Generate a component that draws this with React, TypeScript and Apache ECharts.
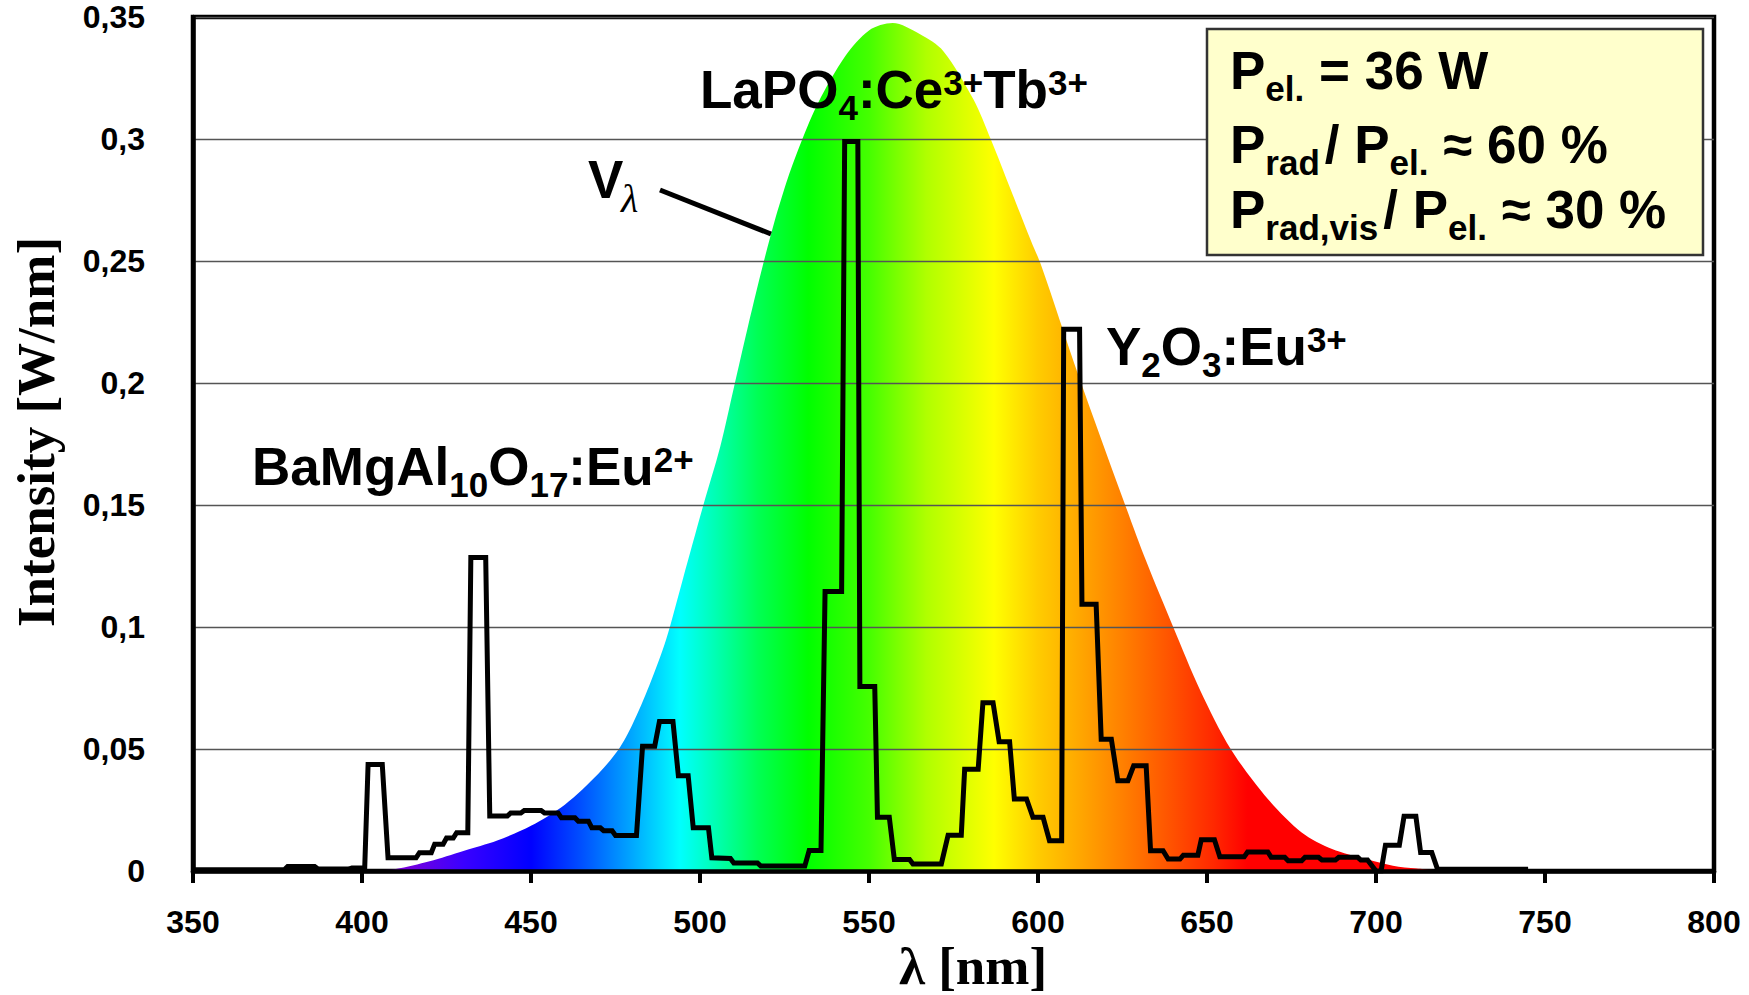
import React, { useEffect, useRef } from 'react';
import * as echarts from 'echarts';

const SANS = '"Liberation Sans", Arial, Helvetica, sans-serif';
const SERIF = '"Liberation Serif", "Times New Roman", Times, serif';

// Eye sensitivity curve V(lambda) as drawn (scaled to W/nm axis)
const vLambda = [400, 405, 410, 420, 430, 440, 450, 460, 470, 476, 480, 485, 490, 495, 501, 506, 510, 514, 518, 522, 526, 530, 535, 543, 550, 557, 565, 572, 581, 586, 592, 598, 601, 612, 625, 632, 640, 648, 657, 668, 678, 687, 697, 705, 712, 720];
const vValue = [0, 0.0003, 0.0008, 0.004, 0.0082, 0.0125, 0.0185, 0.0272, 0.04, 0.05, 0.06, 0.076, 0.095, 0.12, 0.15, 0.174, 0.198, 0.222, 0.245, 0.266, 0.284, 0.299, 0.315, 0.334, 0.3445, 0.3475, 0.343, 0.336, 0.316, 0.3, 0.279, 0.258, 0.248, 0.203, 0.153, 0.127, 0.1, 0.074, 0.05, 0.0295, 0.0158, 0.009, 0.0049, 0.0022, 0.001, 0];

// Spectral colour stops of the filled curve
const colorLambda = [400, 415, 430, 450, 465, 480, 494, 505, 517, 532, 550, 560, 567, 587, 600, 612, 625, 640, 652, 662, 720];
const colorValue = ['#9400d3', '#7000e0', '#3a00ff', '#0000ff', '#0050ff', '#00a8ff', '#00ffff', '#00ffb0', '#00ff55', '#00ff00', '#45ff00', '#85ff00', '#b0ff00', '#ffff00', '#ffcc00', '#ffa800', '#ff8000', '#ff5000', '#ff2800', '#ff0000', '#ff0000'];

// Lamp emission spectrum (step outline)
const specLambda = [350, 377, 378, 386, 387, 396, 397, 400.8, 401.8, 406, 407.7, 416, 417, 420.5, 421.5, 424, 425, 427, 428, 431.3, 432.2, 436.6, 437.8, 443, 444, 447, 448, 453, 454, 458, 459, 463, 464, 467, 468, 470.5, 471.5, 474, 475, 481.2, 483, 486.6, 488, 492, 493.6, 496.5, 498, 502.5, 503.5, 509, 510, 517, 518, 531, 532.3, 535.8, 537, 541.9, 542.8, 546.7, 547.3, 551.7, 552.5, 556, 557.5, 562, 563, 571.4, 573.4, 577.3, 578.3, 582.3, 583.7, 586.7, 588.5, 591.6, 593, 596.6, 598.5, 601.5, 603.4, 607, 607.6, 612.3, 613, 617.2, 618.7, 621.7, 623.6, 626.6, 628.3, 632, 633.3, 637, 638.5, 642, 643, 647.3, 648.3, 652.2, 653.8, 661, 662, 668, 669, 673, 674, 678, 679, 683, 684, 688, 689, 694.6, 695.5, 697.5, 700, 701.5, 702.8, 706.9, 708.3, 711.8, 713.2, 716.5, 718.2, 745];
const specValue = [0.0005, 0.0005, 0.0018, 0.0018, 0.0008, 0.0008, 0.0012, 0.0012, 0.0436, 0.0436, 0.0054, 0.0054, 0.0075, 0.0075, 0.011, 0.011, 0.0135, 0.0135, 0.0157, 0.0157, 0.1285, 0.1285, 0.0225, 0.0225, 0.0238, 0.0238, 0.0248, 0.0248, 0.0238, 0.0238, 0.0218, 0.0218, 0.0204, 0.0204, 0.0177, 0.0177, 0.0165, 0.0165, 0.0146, 0.0146, 0.0511, 0.0511, 0.0613, 0.0613, 0.039, 0.039, 0.0177, 0.0177, 0.0054, 0.0051, 0.0033, 0.0033, 0.002, 0.002, 0.0084, 0.0084, 0.1145, 0.1145, 0.299, 0.299, 0.0756, 0.0756, 0.022, 0.022, 0.0047, 0.0047, 0.0029, 0.0029, 0.0147, 0.0147, 0.0417, 0.0417, 0.069, 0.069, 0.053, 0.053, 0.0295, 0.0295, 0.022, 0.022, 0.0124, 0.0124, 0.222, 0.222, 0.1093, 0.1093, 0.054, 0.054, 0.037, 0.037, 0.0431, 0.0431, 0.0083, 0.0083, 0.0049, 0.0049, 0.0065, 0.0065, 0.0128, 0.0128, 0.0058, 0.0058, 0.0078, 0.0078, 0.0056, 0.0056, 0.0042, 0.0042, 0.0056, 0.0056, 0.0045, 0.0045, 0.0056, 0.0056, 0.0045, 0.0045, 0, 0, 0.0106, 0.0106, 0.0224, 0.0224, 0.0076, 0.0076, 0.0007, 0.0007];

const xTicks = { min: 350, max: 800, step: 50 };
const yTicks = { min: 0, max: 0.35, step: 0.05 };

type Seg = [string, number]; // 0 normal, 1 subscript, 2 superscript, 3 gap (text = pixels)

let measureCtx: CanvasRenderingContext2D | null = null;
function measure(text: string, size: number, weight: string, family: string) {
  if (!measureCtx) measureCtx = document.createElement('canvas').getContext('2d');
  measureCtx!.font = `${weight} ${size}px ${family}`;
  return measureCtx!.measureText(text).width;
}

function formula(segs: Seg[], x: number, baseline: number, opts: any = {}) {
  const size = opts.size ?? 53;
  const small = opts.small ?? 35;
  const subDy = opts.subDy ?? 12;
  const supDy = opts.supDy ?? -13;
  const weight = opts.weight ?? 'bold';
  const family = opts.family ?? SANS;
  let cx = x;
  const out: any[] = [];
  for (const [t, k] of segs) {
    if (k === 3) {
      cx += Number(t);
      continue;
    }
    const fs = k ? small : size;
    const b = baseline + (k === 1 ? subDy : k === 2 ? supDy : 0);
    out.push({
      type: 'text',
      x: cx,
      y: b - 0.3465 * fs,
      z: 20,
      style: {
        text: t,
        fontSize: fs,
        fontWeight: weight,
        fontFamily: family,
        fill: '#000',
        align: 'left',
        verticalAlign: 'middle',
        textAlign: 'left',
        textVerticalAlign: 'middle',
      },
    });
    cx += measure(t, fs, weight, family);
  }
  return out;
}

export default function App() {
  const ref = useRef<HTMLDivElement>(null);

  useEffect(() => {
    const chart = echarts.init(ref.current!, null, { renderer: 'svg' });

    const vData = vLambda.map((l, i) => [l, vValue[i]]);
    const specData = specLambda.map((l, i) => [l, specValue[i]]);
    const l0 = vLambda[0];
    const l1 = vLambda[vLambda.length - 1];
    const stops = colorLambda.map((l, i) => ({ offset: Math.min(1, Math.max(0, (l - l0) / (l1 - l0))), color: colorValue[i] }));
    const gradient = new echarts.graphic.LinearGradient(0, 0, 1, 0, stops);

    const labelFont = { fontFamily: SANS, fontWeight: 'bold' as const, fontSize: 32, color: '#000' };

    const elements: any[] = [
      // info box
      {
        type: 'rect',
        z: 15,
        shape: { x: 1207, y: 29, width: 496, height: 226 },
        style: { fill: '#ffffcc', stroke: '#333', lineWidth: 2.5 },
      },
      ...formula([['P', 0], ['el.', 1], [' = 36 W', 0]], 1230, 88.5),
      ...formula([['P', 0], ['rad', 1], ['5', 3], ['/ ', 0], ['P', 0], ['el.', 1], [' \u2248 60 %', 0]], 1230, 163),
      ...formula([['P', 0], ['rad,vis', 1], ['5', 3], ['/ ', 0], ['P', 0], ['el.', 1], [' \u2248 30 %', 0]], 1230, 228),
      // phosphor labels
      ...formula([['LaPO', 0], ['4', 1], [':Ce', 0], ['3+', 2], ['Tb', 0], ['3+', 2]], 700, 108),
      ...formula([['BaMgAl', 0], ['10', 1], ['O', 0], ['17', 1], [':Eu', 0], ['2+', 2]], 252, 485),
      ...formula([['Y', 0], ['2', 1], ['O', 0], ['3', 1], [':Eu', 0], ['3+', 2]], 1106, 365),
      // V lambda label
      ...formula([['V', 0]], 588, 198),
      {
        type: 'text',
        x: 621,
        y: 212 - 0.3375 * 40,
        z: 20,
        style: { text: '\u03bb', fontSize: 40, fontStyle: 'italic', fontFamily: SERIF, fill: '#000', align: 'left', verticalAlign: 'middle', textAlign: 'left', textVerticalAlign: 'middle' },
      },
      {
        type: 'line',
        z: 20,
        shape: { x1: 660, y1: 190, x2: 771, y2: 234 },
        style: { stroke: '#000', lineWidth: 5 },
      },
      // axis titles
      {
        type: 'text',
        x: 36,
        y: 432,
        rotation: Math.PI / 2,
        z: 20,
        style: { text: 'Intensity [W/nm]', fontSize: 53, fontWeight: 'bold', fontFamily: SERIF, fill: '#000', align: 'center', verticalAlign: 'middle', textAlign: 'center', textVerticalAlign: 'middle' },
      },
      {
        type: 'text',
        x: 973,
        y: 984 - 0.3375 * 53,
        z: 20,
        style: { text: '\u03bb [nm]', fontSize: 53, lineHeight: 40, fontWeight: 'bold', fontFamily: SERIF, fill: '#000', align: 'center', verticalAlign: 'middle', textAlign: 'center', textVerticalAlign: 'middle' },
      },
    ];

    const option: any = {
      animation: false,
      backgroundColor: '#fff',
      grid: {
        left: 193,
        right: 35,
        top: 17,
        bottom: 124,
        show: true,
        borderColor: '#000',
        borderWidth: 4.5,
        backgroundColor: 'transparent',
        containLabel: false,
      },
      xAxis: {
        type: 'value',
        min: xTicks.min,
        max: xTicks.max,
        interval: xTicks.step,
        z: 3,
        axisLine: { show: true, onZero: false, lineStyle: { color: '#000', width: 4.5 } },
        axisTick: { show: true, length: 12, lineStyle: { color: '#000', width: 4 } },
        axisLabel: { ...labelFont, margin: 36, lineHeight: 30 },
        splitLine: { show: false },
      },
      yAxis: {
        type: 'value',
        min: yTicks.min,
        max: yTicks.max,
        interval: yTicks.step,
        z: 3,
        axisLine: { show: true, lineStyle: { color: '#000', width: 4.5 } },
        axisTick: { show: false },
        axisLabel: {
          ...labelFont,
          margin: 48,
          padding: [8, 0, 0, 0],
          formatter: (v: number) => (v === 0 ? '0' : String(+v.toFixed(2)).replace('.', ',')),
        },
        splitLine: { show: true, lineStyle: { color: '#555', width: 1.3 } },
      },
      series: [
        {
          type: 'line',
          name: 'V_lambda',
          data: vData,
          smooth: 0.3,
          showSymbol: false,
          z: 2,
          lineStyle: { width: 0, opacity: 0 },
          areaStyle: { color: gradient, opacity: 1 },
          silent: true,
        },
        {
          type: 'line',
          name: 'spectrum',
          data: specData,
          showSymbol: false,
          z: 5,
          lineStyle: { color: '#000', width: 5, join: 'miter' },
          silent: true,
        },
      ],
      graphic: { elements },
    };

    chart.setOption(option);
    return () => chart.dispose();
  }, []);

  return (
    <div
      ref={ref}
      style={{ position: 'fixed', left: 0, top: 0, width: 1749, height: 995, background: '#fff' }}
    />
  );
}
